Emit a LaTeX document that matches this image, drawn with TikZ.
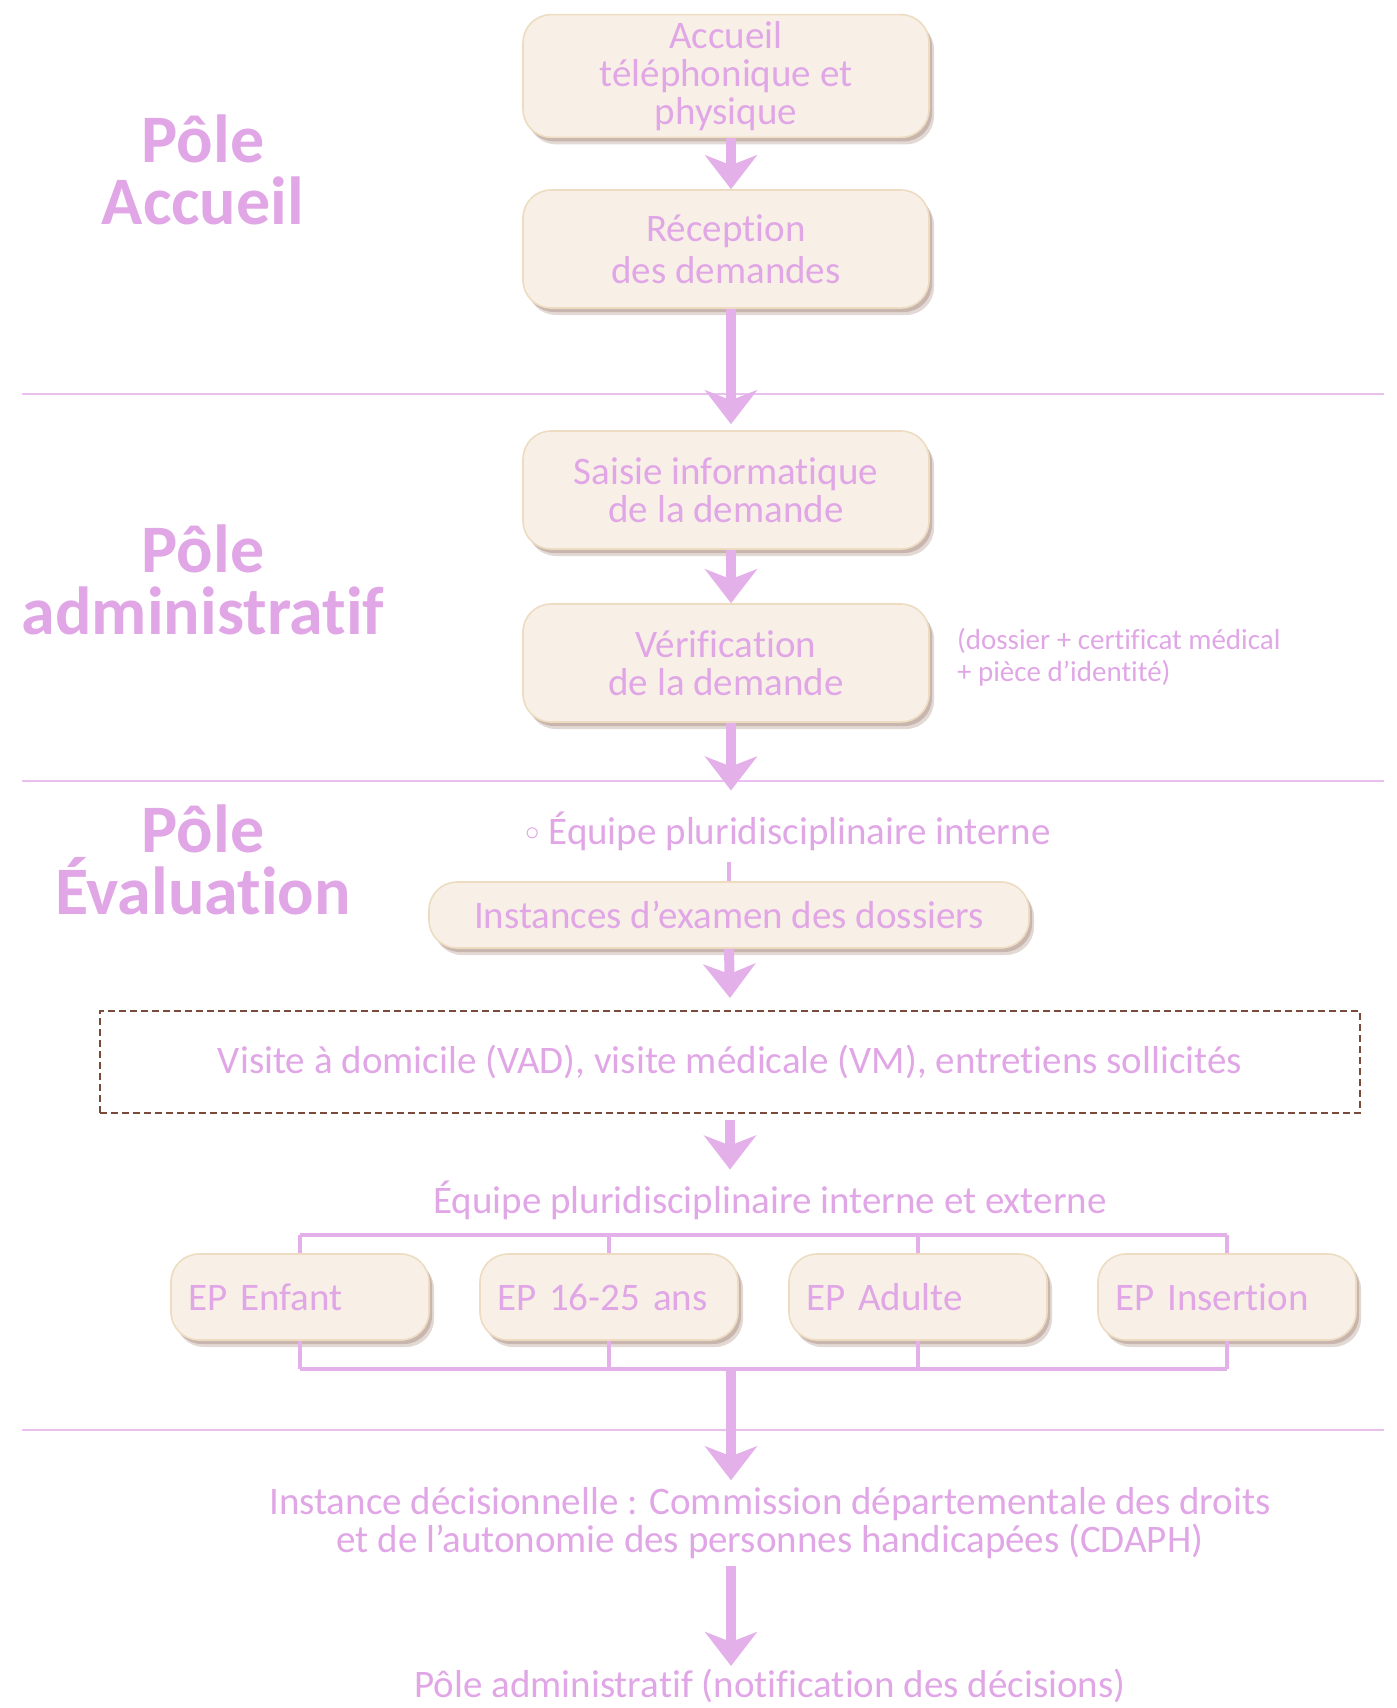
\documentclass[tikz,border=0pt]{standalone}
\usepackage{fontspec}
\setmainfont{Carlito}[Ligatures=NoCommon]
\usepackage{xcolor}
\usetikzlibrary{arrows.meta,shadows,positioning}

\definecolor{lilac}{HTML}{E0A6E6}
\definecolor{flowpink}{HTML}{E4B0EA}
\definecolor{boxfill}{HTML}{F8F0E6}
\definecolor{boxline}{HTML}{EDDCC2}
\definecolor{shade}{HTML}{7A4E3C}
\definecolor{dashbrown}{HTML}{7A4B3A}

\begin{document}
\begin{tikzpicture}[x=0.5pt,y=-0.5pt,
  every node/.style={text=lilac, align=center, font=\fontsize{19.5}{19}\selectfont},
  stepbox/.style={draw=boxline, fill=boxfill, line width=0.8pt, rounded corners=14pt,
    minimum width=203pt, minimum height=59pt,
    drop shadow={shadow xshift=2.5pt, shadow yshift=-3.5pt, fill=shade, opacity=.22},
    drop shadow={shadow xshift=1.5pt, shadow yshift=-2pt, fill=shade, opacity=.25}},
  epbox/.style={stepbox, minimum width=129pt, minimum height=43pt, text width=112pt, align=left},
  pole/.style={font=\bfseries\fontsize{34}{31}\selectfont},
  note/.style={align=left, font=\fontsize{14.5}{16}\selectfont},
  flow/.style={draw=flowpink, line width=5pt, -{Stealth[length=17pt, width=26pt, inset=5pt]}},
  bracket/.style={draw=flowpink, line width=2pt},
  sep/.style={draw=flowpink!80, line width=0.7pt}
]
  \useasboundingbox (0,0) rectangle (1397,1708);

  % poles
  \node[pole] (pacc) at (203,170) {Pôle\\Accueil};
  \node[pole] (padm) at (203,580) {Pôle\\administratif};
  \node[pole] (peva) at (203,860) {Pôle\\Évaluation};

  \draw[sep] (22,394) -- (1384,394);
  \draw[sep] (22,781) -- (1384,781);
  \draw[sep] (22,1430) -- (1384,1430);

  % central column
  \coordinate (axis) at (731,0);
  \node[stepbox] (acc) at (726,76) {Accueil\\téléphonique et\\physique};
  \node[stepbox, font=\fontsize{19.5}{21}\selectfont] (rec) at (726,249) {Réception\\des demandes};
  \node[stepbox] (sai) at (726,490) {Saisie informatique\\de la demande};
  \node[stepbox] (ver) at (726,663) {Vérification\\de la demande};
  \node[note, anchor=west] (doc) at (950,657) {(dossier + certificat médical\\+ pièce d’identité)};

  \node (eqi) at (788,831) {\raisebox{0.2ex}{$\scriptstyle\circ$} Équipe pluridisciplinaire interne};
  \node[stepbox, minimum width=300pt, minimum height=33pt] (inst) at (729,915) {Instances d’examen des dossiers};
  \node[draw=dashbrown, line width=1pt, dash pattern=on 3.5pt off 2pt,
        minimum width=630pt, minimum height=51pt] (vis) at (730,1062) {Visite à domicile (VAD), visite médicale (VM), entretiens sollicités};
  \node (eqe) at (770,1200) {Équipe pluridisciplinaire interne et externe};

  \node[epbox] (ep1) at (300,1297) {EP Enfant};
  \node[epbox] (ep2) at (609,1297) {EP 16-25 ans};
  \node[epbox] (ep3) at (918,1297) {EP Adulte};
  \node[epbox] (ep4) at (1227,1297) {EP Insertion};

  \coordinate (btop) at (731,1235);
  \coordinate (bbot) at (731,1369);

  \node (dec) at (770,1523) {Instance décisionnelle~: Commission départementale des droits\\et de l’autonomie des personnes handicapées (CDAPH)};
  \node (fin) at (770,1686) {Pôle administratif (notification des décisions)};

  % connectors
  \draw[flow] (acc.south -| axis) -- (rec.north -| axis);
  \draw[flow] (rec.south -| axis) -- ([yshift=3pt]sai.north -| axis);
  \draw[flow] (sai.south -| axis) -- (ver.north -| axis);
  \draw[flow, shorten >=7pt] (ver.south -| axis) -- (eqi.north -| axis);
  \draw[draw=flowpink, line width=2pt] ([yshift=-2pt]eqi.south -| inst) -- (inst.north);
  \draw[flow] (inst.south) -- ([yshift=6pt]vis.north);
  \draw[flow] ([yshift=-3pt]vis.south) -- ([yshift=2pt]vis.south |- eqe.north);

  \draw[bracket] (ep1.north |- btop) -- (ep4.north |- btop);
  \draw[bracket] (ep1.south |- bbot) -- (ep4.south |- bbot);
  \foreach \e in {ep1,ep2,ep3,ep4} {
    \draw[bracket] (\e.north) -- (\e.north |- btop);
    \draw[bracket] (\e.south) -- (\e.south |- bbot);
  }

  \draw[flow] (bbot) -- (bbot |- dec.north);
  \draw[flow] (bbot |- dec.south) -- ([yshift=-2pt]bbot |- fin.north);
\end{tikzpicture}
\end{document}
